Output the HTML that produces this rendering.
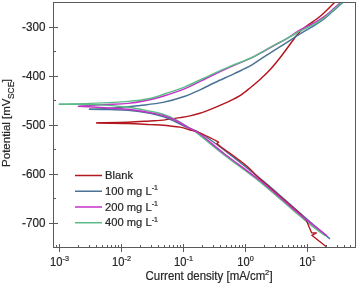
<!DOCTYPE html><html><head><meta charset="utf-8"><style>html,body{margin:0;padding:0;background:#fff;width:357px;height:283px;overflow:hidden}svg{display:block;will-change:transform}</style></head><body><svg width="357" height="283" viewBox="0 0 357 283">
<rect width="357" height="283" fill="#fff"/>
<defs><clipPath id="pc"><rect x="53.5" y="2.5" width="302" height="245"/></clipPath></defs>
<g fill="none" stroke-width="1.45" stroke-linejoin="round" stroke-linecap="round" clip-path="url(#pc)">
<path d="M96.80,122.90 C102.00,122.80 119.13,122.62 128.00,122.30 C136.87,121.98 144.67,121.32 150.00,121.00 C155.33,120.68 155.00,120.97 160.00,120.40 C165.00,119.83 175.00,118.35 180.00,117.60 C185.00,116.85 186.67,116.62 190.00,115.90 C193.33,115.18 196.67,114.35 200.00,113.30 C203.33,112.25 206.67,110.92 210.00,109.60 C213.33,108.28 216.67,106.85 220.00,105.40 C223.33,103.95 226.67,102.52 230.00,100.90 C233.33,99.28 236.67,97.85 240.00,95.70 C243.33,93.55 246.67,90.70 250.00,88.00 C253.33,85.30 256.58,82.63 260.00,79.50 C263.42,76.37 267.07,72.95 270.50,69.20 C273.93,65.45 276.88,61.78 280.60,57.00 C284.32,52.22 290.07,44.17 292.80,40.50 C295.53,36.83 295.18,37.03 297.00,35.00 C298.82,32.97 301.03,30.53 303.70,28.30 C306.37,26.07 309.95,23.85 313.00,21.60 C316.05,19.35 318.17,18.23 322.00,14.80 C325.83,11.37 333.67,3.30 336.00,1.00" stroke="#b4161e"/>
<path d="M89.50,109.20 C91.25,109.15 93.58,109.30 100.00,108.90 C106.42,108.50 121.33,107.37 128.00,106.80 C134.67,106.23 134.17,106.23 140.00,105.50 C145.83,104.77 155.50,103.93 163.00,102.40 C170.50,100.87 178.83,98.40 185.00,96.30 C191.17,94.20 195.00,92.10 200.00,89.80 C205.00,87.50 210.00,84.87 215.00,82.50 C220.00,80.13 225.50,77.68 230.00,75.60 C234.50,73.52 238.33,71.80 242.00,70.00 C245.67,68.20 248.67,66.77 252.00,64.80 C255.33,62.83 258.17,60.70 262.00,58.20 C265.83,55.70 271.17,52.23 275.00,49.80 C278.83,47.37 281.67,45.70 285.00,43.60 C288.33,41.50 292.50,38.83 295.00,37.20 C297.50,35.57 297.17,35.53 300.00,33.80 C302.83,32.07 308.33,29.02 312.00,26.80 C315.67,24.58 318.67,22.97 322.00,20.50 C325.33,18.03 328.27,15.25 332.00,12.00 C335.73,8.75 342.33,2.83 344.40,1.00" stroke="#4a7296"/>
<path d="M78.50,106.40 C82.08,106.12 91.75,105.20 100.00,104.70 C108.25,104.20 120.50,104.05 128.00,103.40 C135.50,102.75 139.17,102.00 145.00,100.80 C150.83,99.60 156.33,98.23 163.00,96.20 C169.67,94.17 177.17,91.88 185.00,88.60 C192.83,85.32 202.50,80.07 210.00,76.50 C217.50,72.93 224.17,69.83 230.00,67.20 C235.83,64.57 240.83,62.53 245.00,60.70 C249.17,58.87 251.67,57.90 255.00,56.20 C258.33,54.50 261.67,52.37 265.00,50.50 C268.33,48.63 271.67,46.80 275.00,45.00 C278.33,43.20 282.17,41.32 285.00,39.70 C287.83,38.08 289.50,36.93 292.00,35.30 C294.50,33.67 296.67,31.78 300.00,29.90 C303.33,28.02 308.33,25.95 312.00,24.00 C315.67,22.05 318.67,20.50 322.00,18.20 C325.33,15.90 328.63,13.07 332.00,10.20 C335.37,7.33 340.50,2.53 342.20,1.00" stroke="#c432c8"/>
<path d="M59.40,104.30 C64.50,104.15 78.57,103.88 90.00,103.40 C101.43,102.92 118.00,102.22 128.00,101.40 C138.00,100.58 143.83,99.77 150.00,98.50 C156.17,97.23 159.17,95.75 165.00,93.80 C170.83,91.85 177.50,89.88 185.00,86.80 C192.50,83.72 202.50,78.70 210.00,75.30 C217.50,71.90 224.17,68.87 230.00,66.40 C235.83,63.93 240.83,62.23 245.00,60.50 C249.17,58.77 251.67,57.70 255.00,56.00 C258.33,54.30 261.67,52.17 265.00,50.30 C268.33,48.43 271.67,46.58 275.00,44.80 C278.33,43.02 281.67,41.40 285.00,39.60 C288.33,37.80 292.50,35.40 295.00,34.00 C297.50,32.60 297.17,32.63 300.00,31.20 C302.83,29.77 308.33,27.37 312.00,25.40 C315.67,23.43 318.67,21.77 322.00,19.40 C325.33,17.03 328.43,14.27 332.00,11.20 C335.57,8.13 341.50,2.70 343.40,1.00" stroke="#5cbc88"/>
<path d="M89.50,109.20 C92.92,109.27 103.58,109.42 110.00,109.60 C116.42,109.78 121.33,109.70 128.00,110.30 C134.67,110.90 144.17,112.17 150.00,113.20 C155.83,114.23 158.83,115.12 163.00,116.50 C167.17,117.88 171.33,119.83 175.00,121.50 C178.67,123.17 180.83,124.58 185.00,126.50 C189.17,128.42 193.33,128.98 200.00,133.00 C206.67,137.02 215.00,143.03 225.00,150.60 C235.00,158.17 250.00,170.20 260.00,178.40 C270.00,186.60 276.67,192.57 285.00,199.80 C293.33,207.03 302.57,215.35 310.00,221.80 C317.43,228.25 326.33,235.72 329.60,238.50" stroke="#4a7296"/>
<path d="M59.40,104.30 C65.33,104.35 83.57,104.12 95.00,104.60 C106.43,105.08 118.83,106.10 128.00,107.20 C137.17,108.30 144.17,110.03 150.00,111.20 C155.83,112.37 158.83,112.85 163.00,114.20 C167.17,115.55 170.50,116.95 175.00,119.30 C179.50,121.65 185.83,125.62 190.00,128.30 C194.17,130.98 194.17,130.85 200.00,135.40 C205.83,139.95 215.00,147.85 225.00,155.60 C235.00,163.35 248.33,172.52 260.00,181.90 C271.67,191.28 286.67,204.82 295.00,211.90 C303.33,218.98 305.03,220.45 310.00,224.40 C314.97,228.35 322.33,233.73 324.80,235.60" stroke="#5cbc88"/>
<path d="M96.80,122.90 C102.00,123.00 119.13,123.22 128.00,123.50 C136.87,123.78 144.67,124.35 150.00,124.60 C155.33,124.85 155.00,124.57 160.00,125.00 C165.00,125.43 175.00,126.37 180.00,127.20 C185.00,128.03 187.17,129.27 190.00,130.00 C192.83,130.73 193.67,130.33 197.00,131.60 C200.33,132.87 206.40,135.83 210.00,137.60 C213.60,139.37 217.17,141.43 218.60,142.20 L216.80,143.60 L221.40,147.20  L221.40,147.20 C222.00,147.62 220.73,146.53 225.00,149.70 C229.27,152.87 241.17,161.30 247.00,166.20 C252.83,171.10 253.67,173.35 260.00,179.10 C266.33,184.85 278.33,194.92 285.00,200.70 C291.67,206.48 297.50,211.62 300.00,213.80 L306.50,220.50 L308.40,225.20 L311.60,232.80 L316.40,233.00 L311.80,235.30 L326.00,246.50" stroke="#b4161e" stroke-width="1.35"/>
<path d="M78.50,106.40 C82.08,106.57 91.75,106.92 100.00,107.40 C108.25,107.88 119.67,108.43 128.00,109.30 C136.33,110.17 144.17,111.58 150.00,112.60 C155.83,113.62 158.83,114.17 163.00,115.40 C167.17,116.63 170.50,117.82 175.00,120.00 C179.50,122.18 185.83,126.17 190.00,128.50 C194.17,130.83 194.17,129.72 200.00,134.00 C205.83,138.28 215.00,146.45 225.00,154.20 C235.00,161.95 248.33,171.12 260.00,180.50 C271.67,189.88 286.67,203.48 295.00,210.50 C303.33,217.52 304.77,218.48 310.00,222.60 C315.23,226.72 323.67,233.10 326.40,235.20" stroke="#c432c8"/>
</g>
<g stroke="#5a5a5a" stroke-width="1" fill="none" shape-rendering="crispEdges">
<path d="M53.5,2.5 H355.5 V247.5 H53.5 Z"/>
<path d="M49,223.0 H58"/>
<path d="M49,174.0 H58"/>
<path d="M49,125.0 H58"/>
<path d="M49,76.0 H58"/>
<path d="M49,27.0 H58"/>
<path d="M53.5,247.5 H56"/>
<path d="M53.5,198.5 H56"/>
<path d="M53.5,149.5 H56"/>
<path d="M53.5,100.5 H56"/>
<path d="M53.5,51.5 H56"/>
<path d="M59.5,243.5 V251.5"/>
<path d="M121.5,243.5 V251.5"/>
<path d="M183.5,243.5 V251.5"/>
<path d="M245.5,243.5 V251.5"/>
<path d="M307.5,243.5 V251.5"/>
<path d="M56.7,247.5 V245"/>
<path d="M78.2,247.5 V245"/>
<path d="M89.1,247.5 V245"/>
<path d="M96.8,247.5 V245"/>
<path d="M102.8,247.5 V245"/>
<path d="M107.7,247.5 V245"/>
<path d="M111.9,247.5 V245"/>
<path d="M115.5,247.5 V245"/>
<path d="M118.7,247.5 V245"/>
<path d="M140.2,247.5 V245"/>
<path d="M151.1,247.5 V245"/>
<path d="M158.8,247.5 V245"/>
<path d="M164.8,247.5 V245"/>
<path d="M169.7,247.5 V245"/>
<path d="M173.9,247.5 V245"/>
<path d="M177.5,247.5 V245"/>
<path d="M180.7,247.5 V245"/>
<path d="M202.2,247.5 V245"/>
<path d="M213.1,247.5 V245"/>
<path d="M220.8,247.5 V245"/>
<path d="M226.8,247.5 V245"/>
<path d="M231.7,247.5 V245"/>
<path d="M235.9,247.5 V245"/>
<path d="M239.5,247.5 V245"/>
<path d="M242.7,247.5 V245"/>
<path d="M264.2,247.5 V245"/>
<path d="M275.1,247.5 V245"/>
<path d="M282.8,247.5 V245"/>
<path d="M288.8,247.5 V245"/>
<path d="M293.7,247.5 V245"/>
<path d="M297.9,247.5 V245"/>
<path d="M301.5,247.5 V245"/>
<path d="M304.7,247.5 V245"/>
<path d="M326.2,247.5 V245"/>
<path d="M337.1,247.5 V245"/>
<path d="M344.8,247.5 V245"/>
<path d="M350.8,247.5 V245"/>
</g>
<g font-family="Liberation Sans, sans-serif" fill="#262626" stroke="#262626" stroke-width="0.2">
<text transform="translate(45.4,227.1) scale(0.95,1)" font-size="12.3" text-anchor="end">-700</text>
<text transform="translate(45.4,178.1) scale(0.95,1)" font-size="12.3" text-anchor="end">-600</text>
<text transform="translate(45.4,129.1) scale(0.95,1)" font-size="12.3" text-anchor="end">-500</text>
<text transform="translate(45.4,80.1) scale(0.95,1)" font-size="12.3" text-anchor="end">-400</text>
<text transform="translate(45.4,31.1) scale(0.95,1)" font-size="12.3" text-anchor="end">-300</text>
<text transform="translate(59.5,266.2) scale(0.93,1)" font-size="12" text-anchor="middle">10<tspan font-size="7.8" dy="-4.9">-3</tspan></text>
<text transform="translate(121.5,266.2) scale(0.93,1)" font-size="12" text-anchor="middle">10<tspan font-size="7.8" dy="-4.9">-2</tspan></text>
<text transform="translate(183.5,266.2) scale(0.93,1)" font-size="12" text-anchor="middle">10<tspan font-size="7.8" dy="-4.9">-1</tspan></text>
<text transform="translate(245.5,266.2) scale(0.93,1)" font-size="12" text-anchor="middle">10<tspan font-size="7.8" dy="-4.9">0</tspan></text>
<text transform="translate(307.5,266.2) scale(0.93,1)" font-size="12" text-anchor="middle">10<tspan font-size="7.8" dy="-4.9">1</tspan></text>
<text transform="translate(145.6,279.7) scale(0.94,1)" font-size="12.2">Current density [mA/cm<tspan font-size="8" dy="-4.6" dx="-0.2">2</tspan><tspan dy="4.5" dx="0.2">]</tspan></text>
<text transform="translate(10.0,166.9) rotate(-90)" font-size="11.5">Potential [mV<tspan font-size="8.4" dy="3.5" dx="-0.5">SCE</tspan><tspan dy="-3.5" dx="-0.4">]</tspan></text>
<path d="M75,175.50 H102" stroke="#b4161e" stroke-width="1.5" fill="none"/>
<text x="105" y="179.10" font-size="11.2">Blank</text>
<path d="M75,191.25 H102" stroke="#4a7296" stroke-width="1.5" fill="none"/>
<text x="105" y="194.85" font-size="11.2">100 mg L<tspan font-size="7" dy="-4.5">-1</tspan></text>
<path d="M75,207.00 H102" stroke="#c432c8" stroke-width="1.5" fill="none"/>
<text x="105" y="210.60" font-size="11.2">200 mg L<tspan font-size="7" dy="-4.5">-1</tspan></text>
<path d="M75,222.75 H102" stroke="#5cbc88" stroke-width="1.5" fill="none"/>
<text x="105" y="226.35" font-size="11.2">400 mg L<tspan font-size="7" dy="-4.5">-1</tspan></text>
</g>
</svg></body></html>
